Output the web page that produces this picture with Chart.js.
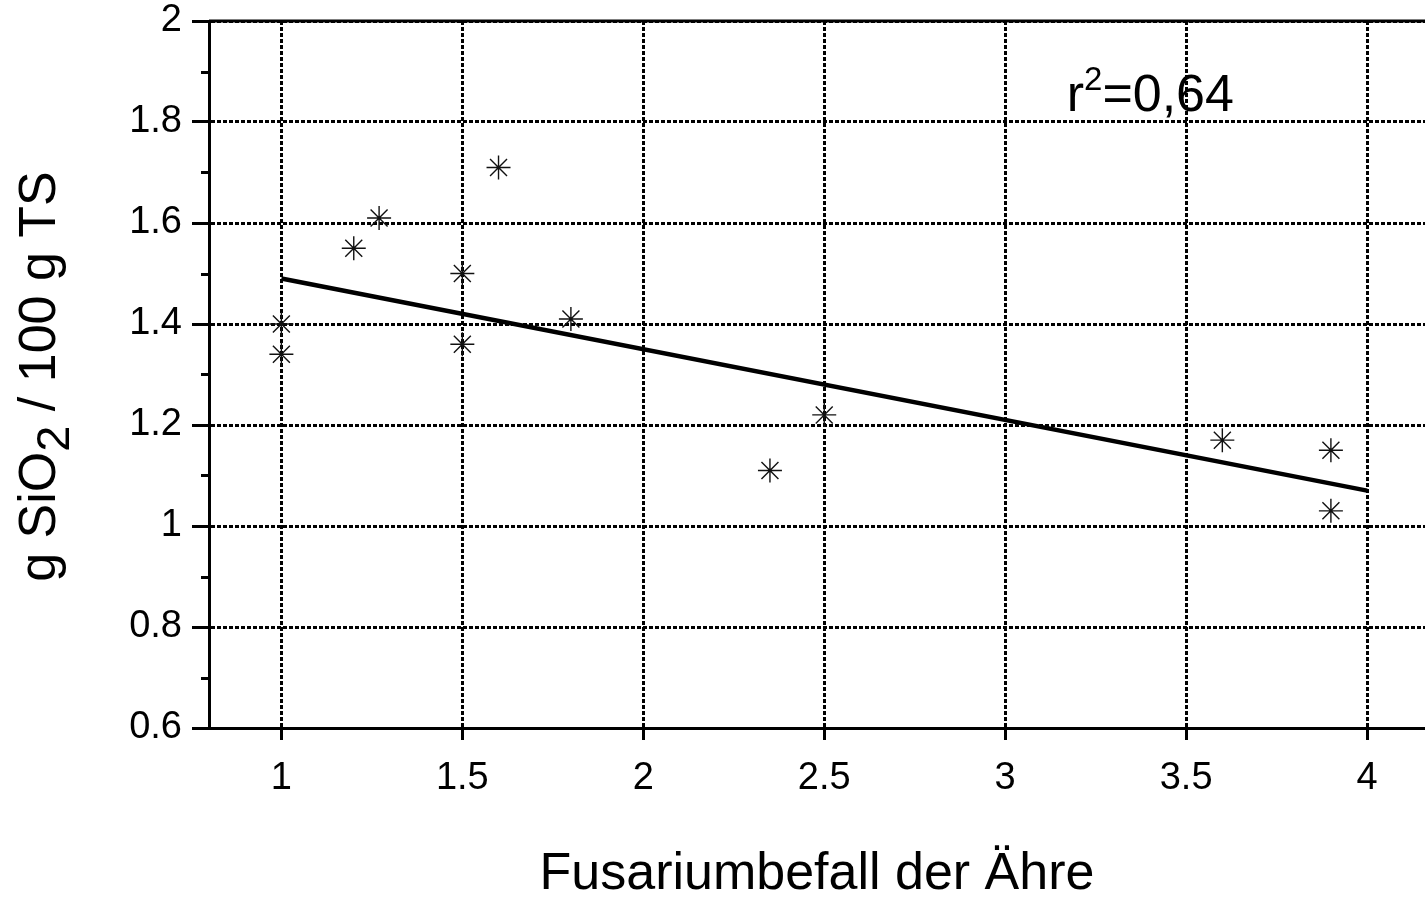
<!DOCTYPE html>
<html>
<head>
<meta charset="utf-8">
<script src="https://cdn.jsdelivr.net/npm/chart.js@4.4.1/dist/chart.umd.min.js"></script>
<style>
  html, body { margin: 0; padding: 0; background: #fff; overflow: hidden; }
  #wrap { width: 1425px; height: 898px; }
</style>
</head>
<body>
<div id="wrap"><canvas id="grafica" width="1425" height="898"></canvas></div>
<script>
'use strict';

// Fusariumbefall der Ähre (x) und SiO2-Gehalt (y) der Einzelproben
const befall = [1, 1, 1.2, 1.27, 1.5, 1.5, 1.6, 1.8, 2.35, 2.5, 3.6, 3.9, 3.9];
const sio2   = [1.40, 1.34, 1.55, 1.61, 1.50, 1.36, 1.71, 1.41, 1.11, 1.22, 1.17, 1.15, 1.03];

// Regressionsgerade (Endpunkte)
const geradeX = [1, 4];
const geradeY = [1.49, 1.07];

// Achsen
const xTicks = [1, 1.5, 2, 2.5, 3, 3.5, 4];
const xTickLabels = ['1', '1.5', '2', '2.5', '3', '3.5', '4'];
const yTicks = [0.6, 0.8, 1, 1.2, 1.4, 1.6, 1.8, 2];
const yTickLabels = ['0.6', '0.8', '1', '1.2', '1.4', '1.6', '1.8', '2'];
const yMinorTicks = [0.7, 0.9, 1.1, 1.3, 1.5, 1.7, 1.9];

const bestimmtheit = 'r';
const bestimmtheitHoch = '2';
const bestimmtheitWert = '=0,64';

const SCHRIFT = '"Liberation Sans", Arial, Helvetica, sans-serif';

// Zusätze: obere Linie, Nebenstriche, y-Titel mit Index, r²-Angabe
const zusaetze = {
    id: 'zusaetze',
    afterDraw(chart) {
        const ctx = chart.ctx;
        const area = chart.chartArea;
        const sx = chart.scales.x;
        const sy = chart.scales.y;

        ctx.save();
        ctx.strokeStyle = '#000';
        ctx.lineWidth = 3;

        // obere Begrenzungslinie
        ctx.beginPath();
        ctx.moveTo(area.left, sy.getPixelForValue(2));
        ctx.lineTo(area.right, sy.getPixelForValue(2));
        ctx.stroke();

        // Nebenstriche auf der y-Achse
        ctx.beginPath();
        yMinorTicks.forEach(v => {
            const py = Math.round(sy.getPixelForValue(v)) + 0.5;
            ctx.moveTo(area.left - 8, py);
            ctx.lineTo(area.left, py);
        });
        ctx.stroke();

        // y-Titel: g SiO2 / 100 g TS
        ctx.fillStyle = '#000';
        ctx.textAlign = 'left';
        ctx.textBaseline = 'alphabetic';
        ctx.translate(55, (area.top + area.bottom) / 2 + 2);
        ctx.rotate(-Math.PI / 2);
        const t1 = 'g SiO', t2 = '2', t3 = ' / 100 g TS';
        ctx.font = '52px ' + SCHRIFT;
        const w1 = ctx.measureText(t1).width;
        const w3 = ctx.measureText(t3).width;
        ctx.font = '47px ' + SCHRIFT;
        const w2 = ctx.measureText(t2).width;
        const start = -(w1 + w2 + w3) / 2;
        ctx.font = '52px ' + SCHRIFT;
        ctx.fillText(t1, start, 0);
        ctx.font = '47px ' + SCHRIFT;
        ctx.fillText(t2, start + w1, 14);
        ctx.font = '52px ' + SCHRIFT;
        ctx.fillText(t3, start + w1 + w2, 0);
        ctx.restore();

        // r² = 0,64
        ctx.save();
        ctx.fillStyle = '#000';
        ctx.textAlign = 'left';
        ctx.textBaseline = 'alphabetic';
        let px = sx.getPixelForValue(3.17);
        const py = sy.getPixelForValue(1.822);
        ctx.font = '52px ' + SCHRIFT;
        ctx.fillText(bestimmtheit, px, py);
        px += ctx.measureText(bestimmtheit).width;
        ctx.font = '33px ' + SCHRIFT;
        ctx.fillText(bestimmtheitHoch, px, py - 21);
        px += ctx.measureText(bestimmtheitHoch).width;
        ctx.font = '52px ' + SCHRIFT;
        ctx.fillText(bestimmtheitWert, px, py);
        ctx.restore();
    }
};

new Chart(document.getElementById('grafica').getContext('2d'), {
    type: 'scatter',
    data: {
        datasets: [{
            label: 'Proben',
            data: befall.map((v, i) => ({ x: v, y: sio2[i] })),
            pointStyle: 'star',
            pointRadius: 12,
            borderWidth: 1.4,
            borderColor: '#111',
            backgroundColor: 'rgba(0,0,0,0)',
            order: 1
        }, {
            label: 'Regression',
            data: geradeX.map((v, i) => ({ x: v, y: geradeY[i] })),
            showLine: true,
            borderColor: '#000',
            borderWidth: 4.5,
            pointRadius: 0,
            order: 2
        }]
    },
    options: {
        responsive: false,
        animation: false,
        layout: { autoPadding: false, padding: { top: 21, left: 0, right: 0, bottom: 0 } },
        plugins: { legend: { display: false }, tooltip: { enabled: false } },
        scales: {
            x: {
                type: 'linear',
                min: 0.8,
                max: 4.16,
                afterBuildTicks: s => { s.ticks = xTicks.map(v => ({ value: v })); },
                afterFit: s => { s.height = 170; s.paddingLeft = 0; s.paddingRight = 0; },
                ticks: {
                    callback: (v, i) => xTickLabels[i],
                    autoSkip: false,
                    maxRotation: 0,
                    padding: 16,
                    color: '#000',
                    font: { family: SCHRIFT, size: 38 }
                },
                grid: {
                    color: '#000',
                    lineWidth: 3,
                    tickLength: 12,
                    tickWidth: 3,
                    tickColor: '#000',
                    tickBorderDash: []
                },
                border: { display: true, color: '#000', width: 3, dash: [4, 2] },
                title: {
                    display: true,
                    text: 'Fusariumbefall der Ähre',
                    color: '#000',
                    padding: 0,
                    font: { family: SCHRIFT, size: 52, lineHeight: 0.9 }
                }
            },
            y: {
                type: 'linear',
                min: 0.6,
                max: 2,
                afterBuildTicks: s => { s.ticks = yTicks.map(v => ({ value: v })); },
                afterFit: s => { s.width = 209; s.paddingTop = 0; s.paddingBottom = 0; },
                ticks: {
                    callback: (v, i) => yTickLabels[i],
                    autoSkip: false,
                    padding: 10,
                    color: '#000',
                    font: { family: SCHRIFT, size: 38 }
                },
                grid: {
                    color: '#000',
                    lineWidth: 3,
                    tickLength: 17,
                    tickWidth: 3,
                    tickColor: '#000',
                    tickBorderDash: []
                },
                border: { display: true, color: '#000', width: 3, dash: [4, 2] }
            }
        }
    },
    plugins: [zusaetze]
});
</script>
</body>
</html>
